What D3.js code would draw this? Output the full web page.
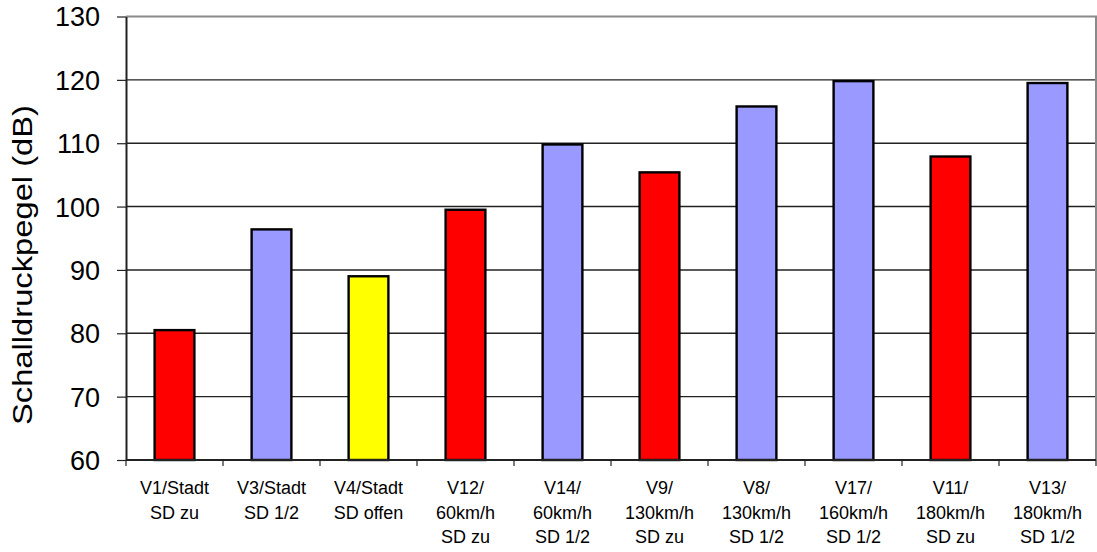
<!DOCTYPE html>
<html>
<head>
<meta charset="utf-8">
<script src="https://cdn.jsdelivr.net/npm/d3@7"></script>
<style>
  html, body { margin: 0; padding: 0; background: #fff; }
  svg text { font-family: "Liberation Sans", Arial, sans-serif; fill: #000; }
</style>
</head>
<body>
<div id="chart"></div>
<script>
const categories = [
  ['V1/Stadt', 'SD zu'],
  ['V3/Stadt', 'SD 1/2'],
  ['V4/Stadt', 'SD offen'],
  ['V12/', '60km/h', 'SD zu'],
  ['V14/', '60km/h', 'SD 1/2'],
  ['V9/', '130km/h', 'SD zu'],
  ['V8/', '130km/h', 'SD 1/2'],
  ['V17/', '160km/h', 'SD 1/2'],
  ['V11/', '180km/h', 'SD zu'],
  ['V13/', '180km/h', 'SD 1/2']
];
const values = [80.5, 96.4, 89.0, 99.5, 109.8, 105.4, 115.8, 119.8, 107.9, 119.5];
const barColors = ['#ff0000', '#9999ff', '#ffff00', '#ff0000', '#9999ff',
                   '#ff0000', '#9999ff', '#9999ff', '#ff0000', '#9999ff'];
const yTicks = [60, 70, 80, 90, 100, 110, 120, 130];
const yLabel = 'Schalldruckpegel (dB)';

const W = 1097, H = 552;
const margin = { top: 16.5, right: 1, bottom: 92, left: 126 };

const svg = d3.select('#chart').append('svg')
  .attr('width', W)
  .attr('height', H);

const keys = categories.map(c => c.join(' '));

// outer band: one slot per category (tick marks + labels)
const xSlot = d3.scaleBand()
  .domain(keys)
  .range([margin.left, W - margin.right]);

// inner band: the bars themselves
const x = d3.scaleBand()
  .domain(keys)
  .range([margin.left, W - margin.right])
  .paddingInner(0.59)
  .paddingOuter(0.295);

const y = d3.scaleLinear()
  .domain([60, 130])
  .range([H - margin.bottom, margin.top]);

// grid lines
svg.append('g')
  .selectAll('line')
  .data(yTicks.filter(t => t > 60 && t < 130))
  .enter()
  .append('line')
  .attr('x1', margin.left)
  .attr('x2', W - margin.right)
  .attr('y1', d => y(d))
  .attr('y2', d => y(d))
  .attr('stroke', '#222')
  .attr('stroke-width', 1.4);

// plot border top + right (grey)
svg.append('path')
  .attr('d', `M${margin.left},${y(130)}H${W - margin.right}V${y(60)}`)
  .attr('fill', 'none')
  .attr('stroke', '#8a8a8a')
  .attr('stroke-width', 2);

// bars
svg.append('g')
  .selectAll('rect')
  .data(values)
  .enter()
  .append('rect')
  .attr('x', (d, i) => x(keys[i]))
  .attr('width', x.bandwidth())
  .attr('y', d => y(d))
  .attr('height', d => y(60) - y(d))
  .attr('fill', (d, i) => barColors[i])
  .attr('stroke', '#000')
  .attr('stroke-width', 2.4);

// y axis
const yAxis = svg.append('g')
  .attr('transform', `translate(${margin.left},0)`)
  .call(d3.axisLeft(y).tickValues(yTicks).tickSize(9).tickPadding(17).tickSizeOuter(0));
yAxis.select('.domain').attr('stroke', '#222').attr('stroke-width', 2);
yAxis.selectAll('.tick line').attr('stroke', '#222').attr('stroke-width', 1.2);
yAxis.selectAll('.tick text')
  .attr('font-size', 27)
  .attr('font-family', '"Liberation Sans", Arial, sans-serif')
  .attr('dy', '0.35em');

// x axis line
svg.append('line')
  .attr('x1', margin.left)
  .attr('x2', W - margin.right)
  .attr('y1', y(60))
  .attr('y2', y(60))
  .attr('stroke', '#222')
  .attr('stroke-width', 2);

// x ticks at slot boundaries
const bounds = keys.map(k => xSlot(k)).concat([xSlot(keys[keys.length - 1]) + xSlot.bandwidth()]);
svg.append('g')
  .selectAll('line')
  .data(bounds)
  .enter()
  .append('line')
  .attr('x1', d => d)
  .attr('x2', d => d)
  .attr('y1', y(60))
  .attr('y2', y(60) + 6)
  .attr('stroke', '#222')
  .attr('stroke-width', 1.2);

// category labels
const labels = svg.append('g')
  .selectAll('text')
  .data(categories)
  .enter()
  .append('text')
  .attr('text-anchor', 'middle')
  .attr('font-size', 18)
  .attr('x', (d, i) => xSlot(keys[i]) + xSlot.bandwidth() / 2)
  .attr('y', y(60) + 34);
labels.selectAll('tspan')
  .data(d => d)
  .enter()
  .append('tspan')
  .attr('x', function () { return d3.select(this.parentNode).attr('x'); })
  .attr('dy', (d, i) => i === 0 ? 0 : 24.5)
  .text(d => d);

// y label
svg.append('text')
  .attr('transform', `translate(32,265) rotate(-90)`)
  .attr('text-anchor', 'middle')
  .attr('font-size', 28)
  .attr('textLength', 320)
  .attr('lengthAdjust', 'spacingAndGlyphs')
  .text(yLabel);
</script>
</body>
</html>
